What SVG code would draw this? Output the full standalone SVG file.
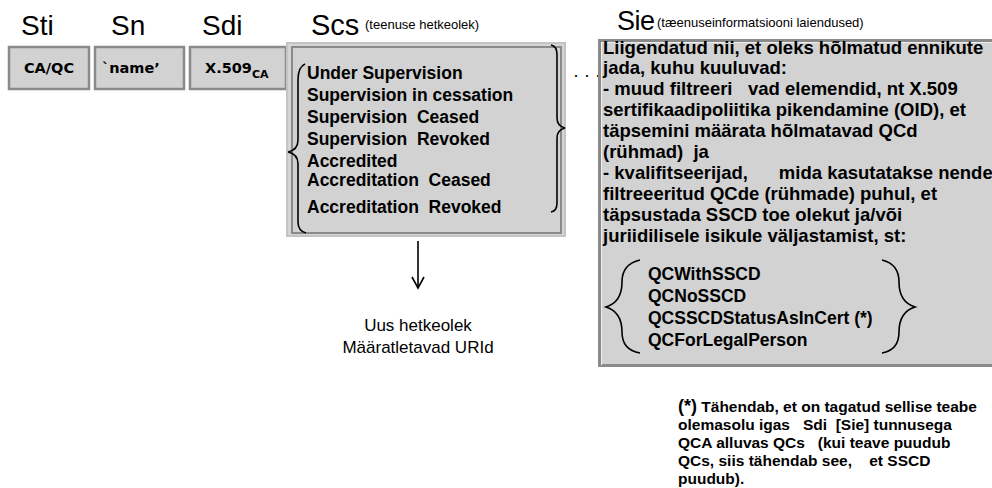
<svg xmlns="http://www.w3.org/2000/svg" width="992" height="488" viewBox="0 0 992 488">
<defs>
<style>
text{white-space:pre}
.hd{font-family:"Liberation Sans",Arial,sans-serif;font-size:28px;fill:#000}
.sm{font-family:"Liberation Sans",Arial,sans-serif;font-size:13px;fill:#000}
.bx{fill:#d2d2d2;stroke:#8a8a8a;stroke-width:2.5}
.bt{font-family:"DejaVu Sans",Verdana,sans-serif;font-size:14.5px;font-weight:bold;fill:#000}
.lt{font-family:"Liberation Sans",Arial,sans-serif;font-size:17.5px;font-weight:bold;fill:#000}
.st{font-family:"Liberation Sans",Arial,sans-serif;font-size:18.5px;font-weight:bold;fill:#000}
.nt{font-family:"Liberation Sans",Arial,sans-serif;font-size:17px;fill:#000}
.fn{font-family:"Liberation Sans",Arial,sans-serif;font-size:15.5px;font-weight:bold;fill:#000}
.br{fill:none;stroke:#000;stroke-width:1.6}
</style>
<marker id="arr" markerWidth="14" markerHeight="14" refX="12" refY="7" orient="auto" markerUnits="userSpaceOnUse" viewBox="0 0 14 14">
<path d="M1,1 L12,7 L1,13" fill="none" stroke="#000" stroke-width="1.6"/>
</marker>
</defs>
<rect width="992" height="488" fill="#fff"/>

<g id="headings">
<text class="hd" x="21" y="35">Sti</text>
<text class="hd" x="111" y="35">Sn</text>
<text class="hd" x="202" y="35">Sdi</text>
<text class="hd" x="311" y="35" style="font-size:29px">Scs</text>
<text class="sm" x="365" y="29">(teenuse hetkeolek)</text>
<text class="hd" x="617" y="30" style="font-size:27px;letter-spacing:-0.5px">Sie</text>
<text class="sm" x="657" y="27">(tæenuseinformatsiooni laiendused)</text>
</g>

<g id="sti">
<rect class="bx" x="9" y="47" width="80" height="42"/>
<text class="bt" x="49" y="73" text-anchor="middle">CA/QC</text>
</g>
<g id="sn">
<rect class="bx" x="95" y="47" width="89" height="42"/>
<text class="bt" x="102" y="73">`name’</text>
</g>
<g id="sdi">
<rect class="bx" x="190" y="47" width="96" height="42"/>
<text class="bt" x="205" y="73">X.509<tspan font-size="11" dy="5">CA</tspan></text>
</g>

<g id="scs">
<rect x="287" y="43" width="278" height="193" fill="#d4d4d4" stroke="#c4c4c4" stroke-width="2"/>
<rect x="292" y="47" width="269" height="186" fill="#d2d2d2" stroke="#8a8a8a" stroke-width="2"/>
<path class="br" d="M305,64 Q298,67 298,80 L298,140 Q298,150 288,152 Q298,154 298,164 L298,222 Q298,231 306,233"/>
<path class="br" d="M551,45 Q557,46 557,55 L557,118 Q557,126 565,128 Q557,130 557,138 L557,203 Q557,211 551,212"/>
<text class="lt" x="307" y="79">Under Supervision</text>
<text class="lt" x="307" y="101">Supervision in cessation</text>
<text class="lt" x="307" y="123">Supervision  Ceased</text>
<text class="lt" x="307" y="145">Supervision  Revoked</text>
<text class="lt" x="307" y="167">Accredited</text>
<text class="lt" x="307" y="186">Accreditation  Ceased</text>
<text class="lt" x="307" y="213">Accreditation  Revoked</text>
</g>

<g id="ellipsis">
<text class="nt" x="573" y="81" style="font-size:18px">· · ·</text>
</g>

<g id="sie">
<rect x="599.5" y="40.5" width="400" height="325" fill="#d2d2d2" stroke="#8a8a8a" stroke-width="3"/>
<path d="M601.5,365 L601.5,42.5 L992,42.5" fill="none" stroke="#eeeeee" stroke-width="1"/>
<text class="st" x="603" y="54">Liigendatud nii, et oleks hõlmatud ennikute</text>
<text class="st" x="603" y="74">jada, kuhu kuuluvad:</text>
<text class="st" x="603" y="95">- muud filtreeri   vad elemendid, nt X.509</text>
<text class="st" x="603" y="116">sertifikaadipoliitika pikendamine (OID), et</text>
<text class="st" x="603" y="137">täpsemini määrata hõlmatavad QCd</text>
<text class="st" x="603" y="158">(rühmad)  ja</text>
<text class="st" x="603" y="179">- kvalifitseerijad,      mida kasutatakse nende</text>
<text class="st" x="603" y="200">filtreeeritud QCde (rühmade) puhul, et</text>
<text class="st" x="603" y="221">täpsustada SSCD toe olekut ja/või</text>
<text class="st" x="603" y="242">juriidilisele isikule väljastamist, st:</text>
<path class="br" d="M640,260 Q622,264 622,282 Q622,302 606,307 Q622,312 622,332 Q622,350 640,353"/>
<path class="br" d="M882,260 Q899,264 899,282 Q899,302 915,307 Q899,312 899,332 Q899,350 882,353"/>
<text class="lt" x="648" y="280">QCWithSSCD</text>
<text class="lt" x="648" y="302">QCNoSSCD</text>
<text class="lt" x="648" y="324">QCSSCDStatusAsInCert (*)</text>
<text class="lt" x="648" y="346">QCForLegalPerson</text>
</g>

<g id="connectors">
<line x1="418" y1="241" x2="418" y2="288" stroke="#000" stroke-width="1.6" marker-end="url(#arr)"/>
</g>

<g id="result">
<text class="nt" x="418" y="331" text-anchor="middle">Uus hetkeolek</text>
<text class="nt" x="418" y="353" text-anchor="middle">Määratletavad URId</text>
</g>

<g id="footnote">
<text class="fn" x="678" y="412"><tspan style="font-size:18px">(*)</tspan> Tähendab, et on tagatud sellise teabe</text>
<text class="fn" x="678" y="430">olemasolu igas   Sdi  [Sie] tunnusega</text>
<text class="fn" x="678" y="448">QCA alluvas QCs   (kui teave puudub</text>
<text class="fn" x="678" y="466">QCs, siis tähendab see,    et SSCD</text>
<text class="fn" x="678" y="484">puudub).</text>
</g>
</svg>
